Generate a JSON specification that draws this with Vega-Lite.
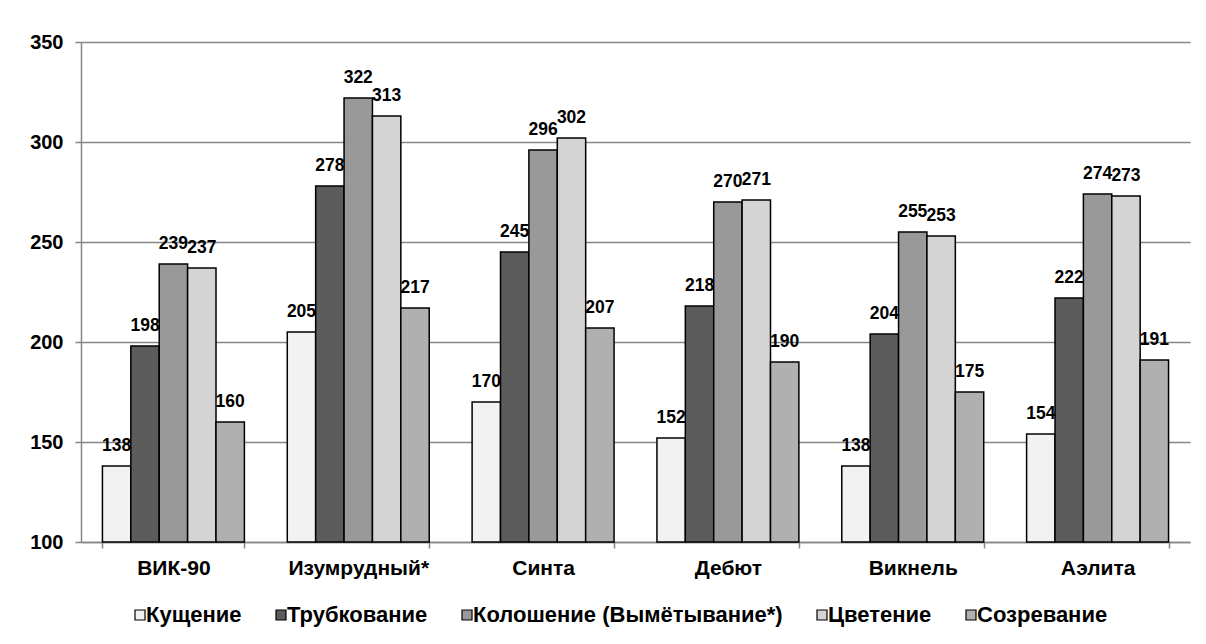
{
  "$schema": "https://vega.github.io/schema/vega-lite/v6.json",
  "width": 1109,
  "height": 500,
  "autosize": {"type": "none"},
  "padding": {"left": 81, "top": 42, "right": 16, "bottom": 102},
  "background": "white",
  "config": {
    "font": "Liberation Sans",
    "view": {"stroke": null},
    "axis": {"labelFont": "Liberation Sans", "labelFontWeight": "bold", "labelColor": "black"}
  },
  "data": {
    "values": [
      {"sort": "ВИК-90", "phase": "Кущение", "value": 138},
      {"sort": "ВИК-90", "phase": "Трубкование", "value": 198},
      {"sort": "ВИК-90", "phase": "Колошение (Вымётывание*)", "value": 239},
      {"sort": "ВИК-90", "phase": "Цветение", "value": 237},
      {"sort": "ВИК-90", "phase": "Созревание", "value": 160},
      {"sort": "Изумрудный*", "phase": "Кущение", "value": 205},
      {"sort": "Изумрудный*", "phase": "Трубкование", "value": 278},
      {"sort": "Изумрудный*", "phase": "Колошение (Вымётывание*)", "value": 322},
      {"sort": "Изумрудный*", "phase": "Цветение", "value": 313},
      {"sort": "Изумрудный*", "phase": "Созревание", "value": 217},
      {"sort": "Синта", "phase": "Кущение", "value": 170},
      {"sort": "Синта", "phase": "Трубкование", "value": 245},
      {"sort": "Синта", "phase": "Колошение (Вымётывание*)", "value": 296},
      {"sort": "Синта", "phase": "Цветение", "value": 302},
      {"sort": "Синта", "phase": "Созревание", "value": 207},
      {"sort": "Дебют", "phase": "Кущение", "value": 152},
      {"sort": "Дебют", "phase": "Трубкование", "value": 218},
      {"sort": "Дебют", "phase": "Колошение (Вымётывание*)", "value": 270},
      {"sort": "Дебют", "phase": "Цветение", "value": 271},
      {"sort": "Дебют", "phase": "Созревание", "value": 190},
      {"sort": "Викнель", "phase": "Кущение", "value": 138},
      {"sort": "Викнель", "phase": "Трубкование", "value": 204},
      {"sort": "Викнель", "phase": "Колошение (Вымётывание*)", "value": 255},
      {"sort": "Викнель", "phase": "Цветение", "value": 253},
      {"sort": "Викнель", "phase": "Созревание", "value": 175},
      {"sort": "Аэлита", "phase": "Кущение", "value": 154},
      {"sort": "Аэлита", "phase": "Трубкование", "value": 222},
      {"sort": "Аэлита", "phase": "Колошение (Вымётывание*)", "value": 274},
      {"sort": "Аэлита", "phase": "Цветение", "value": 273},
      {"sort": "Аэлита", "phase": "Созревание", "value": 191}
    ]
  },
  "encoding": {
    "x": {
      "field": "sort", "type": "nominal", "sort": null, "title": null,
      "scale": {"paddingInner": 0.232, "paddingOuter": 0.116},
      "axis": {
        "labelAngle": 0, "labelFontSize": 21, "labelPadding": 9,
        "domainColor": "#868686", "domainWidth": 1.5,
        "tickColor": "#868686", "tickWidth": 1.5, "tickSize": 6, "tickBand": "extent",
        "grid": false
      }
    },
    "xOffset": {
      "field": "phase", "type": "nominal",
      "sort": ["Кущение", "Трубкование", "Колошение (Вымётывание*)", "Цветение", "Созревание"],
      "scale": {"paddingInner": 0, "paddingOuter": 0}
    },
    "y": {
      "field": "value", "type": "quantitative", "title": null,
      "scale": {"domain": [100, 350], "zero": false, "clamp": true, "nice": false},
      "axis": {
        "values": [100, 150, 200, 250, 300, 350],
        "labelFontSize": 20, "labelPadding": 12,
        "domainColor": "#868686", "domainWidth": 1.5,
        "tickColor": "#868686", "tickWidth": 1.5, "tickSize": 6,
        "gridColor": "#868686", "gridWidth": 1.5
      }
    }
  },
  "layer": [
    {
      "mark": {"type": "bar", "stroke": "black", "strokeWidth": 1.5},
      "encoding": {
        "y2": {"datum": 100},
        "fill": {
          "field": "phase", "type": "nominal",
          "scale": {
            "domain": ["Кущение", "Трубкование", "Колошение (Вымётывание*)", "Цветение", "Созревание"],
            "range": ["#f2f2f2", "#5c5c5c", "#999999", "#d4d4d4", "#b0b0b0"]
          },
          "legend": {
            "title": null, "orient": "none", "direction": "horizontal",
            "legendX": 48, "legendY": 562,
            "symbolType": "square", "symbolSize": 100, "symbolStrokeColor": "black", "symbolStrokeWidth": 1.2,
            "labelFontSize": 22, "labelFontWeight": "bold", "labelFont": "Liberation Sans", "labelColor": "black",
            "labelOffset": -5, "columnPadding": 28, "labelLimit": 500
          }
        }
      }
    },
    {
      "mark": {"type": "text", "fontSize": 17.5, "fontWeight": "bold", "baseline": "alphabetic", "dy": -15, "color": "black"},
      "encoding": {
        "text": {"field": "value", "type": "quantitative"}
      }
    }
  ]
}
